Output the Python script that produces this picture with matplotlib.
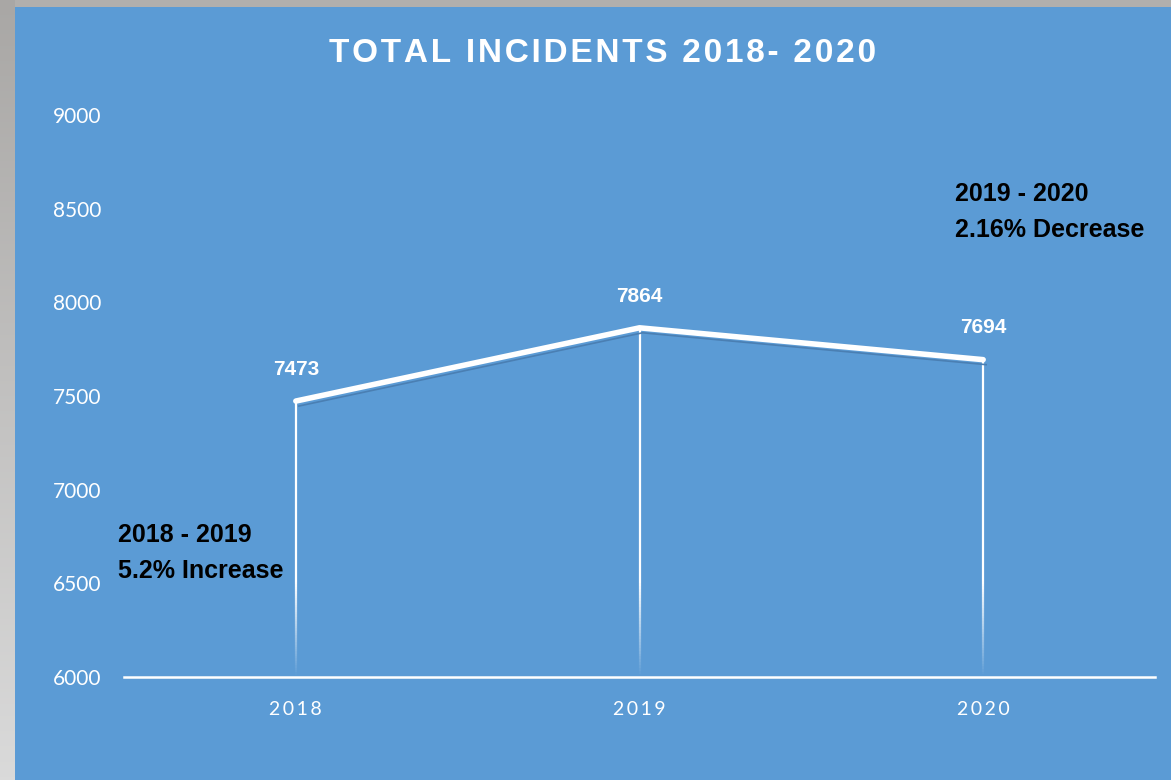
import matplotlib.pyplot as plt
import numpy as np
from matplotlib.collections import LineCollection
import matplotlib.transforms as mtransforms

# Data
years = ["2018", "2019", "2020"]
incidents = [7473, 7864, 7694]
yticks = [6000, 6500, 7000, 7500, 8000, 8500, 9000]
title = "TOTAL INCIDENTS 2018- 2020"
note_left = "2018 - 2019\n5.2% Increase"
note_right = "2019 - 2020\n2.16% Decrease"

blue = "#5b9bd5"
W, H = 1171, 780
bold_font = ["Liberation Sans", "DejaVu Sans"]

fig = plt.figure(figsize=(W / 100, H / 100), dpi=100)
fig.patch.set_facecolor("#b1afad")

# grey frame: gradient on the left, flat band on top
side = fig.add_axes([0, 0, 15 / W, 1])
grad = np.linspace(0, 1, 256).reshape(-1, 1)
side.imshow(grad, aspect="auto", cmap=plt.matplotlib.colors.LinearSegmentedColormap.from_list(
    "g", ["#dadada", "#a9a7a5"]), origin="lower", extent=[0, 1, 0, 1])
side.axis("off")
bg = fig.add_axes([15 / W, 0, 1 - 15 / W, 1 - 7 / H])
bg.set_facecolor(blue)
bg.set_xticks([])
bg.set_yticks([])
for s in bg.spines.values():
    s.set_visible(False)

ax = fig.add_axes([124 / W, 103 / H, (1155 - 124) / W, (677 - 115) / H])
ax.set_facecolor("none")
x = np.arange(len(years))
ax.set_xlim(-0.5, 2.5)
ax.set_ylim(6000, 9000)

# drop lines, fading out near the axis
for xi, v in zip(x, incidents):
    ys = np.linspace(6000, v, 120)
    segs = [[(xi, ys[i]), (xi, ys[i + 1])] for i in range(len(ys) - 1)]
    alphas = np.clip((ys[:-1] - 6000) / 500, 0, 1)
    cols = [(1, 1, 1, a) for a in alphas]
    ax.add_collection(LineCollection(segs, colors=cols, linewidths=1.6, zorder=2))

# shadow of the line
shadow = ax.transData + mtransforms.ScaledTranslation(0.03, -0.05, fig.dpi_scale_trans)
ax.plot(x, incidents, color="#4a7fb3", lw=1.2, transform=shadow, zorder=2)
ax.plot(x, incidents, color="white", lw=4, solid_capstyle="round", zorder=3)

for xi, v in zip(x, incidents):
    ax.annotate(str(v), (xi, v), xytext=(0, 16), textcoords="offset points",
                ha="center", va="bottom", color="white", fontsize=15, fontweight="bold",
                family=bold_font)

ax.set_yticks(yticks)
ax.set_yticklabels([str(t) for t in yticks], color="white", fontsize=15, family="Lato")
ax.set_xticks(x)
ax.set_xticklabels(["\u2009".join(y) for y in years], color="white", fontsize=14, family="Lato")
ax.tick_params(length=0)
ax.tick_params(axis="y", pad=16)
ax.tick_params(axis="x", pad=17)
for s in ["left", "right", "top"]:
    ax.spines[s].set_visible(False)
ax.spines["bottom"].set_color("white")
ax.spines["bottom"].set_linewidth(1.8)

fig.text(603 / W, 1 - 53 / H, "\u200a".join(title),
         ha="center", va="center", color="white",
         fontsize=24, fontweight="bold", family=bold_font)

fig.text(118 / W, 1 - 553 / H, note_left, ha="left", va="center", color="black",
         fontsize=18, fontweight="bold", family=bold_font, linespacing=1.6)
fig.text(955 / W, 1 - 212 / H, note_right, ha="left", va="center", color="black",
         fontsize=18, fontweight="bold", family=bold_font, linespacing=1.6)

fig.savefig("out.png", dpi=100)
